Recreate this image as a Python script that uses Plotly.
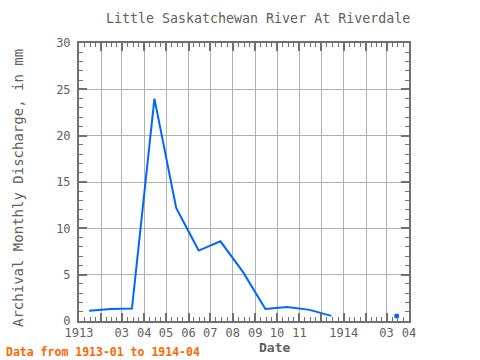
import pandas as pd
import plotly.graph_objects as go

# Data
dates = ["1913-01-15", "1913-02-14", "1913-03-15", "1913-04-15", "1913-05-15",
         "1913-06-15", "1913-07-15", "1913-08-15", "1913-09-15", "1913-10-15",
         "1913-11-15", "1913-12-15", "1914-01-15", "1914-02-14", "1914-03-15",
         "1914-04-15"]
discharge = [1.1, 1.3, 1.35, 24.0, 12.2, 7.6, 8.6, 5.3, 1.3, 1.5, 1.2, 0.55,
             None, None, 0.55, None]

tick_dates = pd.date_range("1913-01-01", "1914-04-01", freq="MS")
tick_labels = ["1913", "", "03", "04", "05", "06", "07", "08", "09", "10", "11", "",
               "1914", "", "03", "04"]

# minor ticks: quarters of each month
minor_vals = []
for a, b in zip(tick_dates[:-1], tick_dates[1:]):
    for k in (1, 2, 3):
        minor_vals.append(a + (b - a) * k / 4)

# isolated points (no neighbours) drawn as dots
iso_x, iso_y = [], []
for i, v in enumerate(discharge):
    if v is None:
        continue
    prev_ok = i > 0 and discharge[i - 1] is not None
    next_ok = i < len(discharge) - 1 and discharge[i + 1] is not None
    if not prev_ok and not next_ok:
        iso_x.append(dates[i])
        iso_y.append(v)

LINE = "#0066ff"
AX = "#707070"
GRID = "#b0b0b0"
TXT = "#606060"
FONT = "DejaVu Sans Mono"

fig = go.Figure()
fig.add_trace(go.Scatter(x=dates, y=discharge, mode="lines",
                         line=dict(color=LINE, width=2), connectgaps=False,
                         hoverinfo="skip"))
fig.add_trace(go.Scatter(x=iso_x, y=iso_y, mode="markers",
                         marker=dict(color=LINE, size=5), hoverinfo="skip"))

fig.update_layout(
    width=480, height=360,
    margin=dict(l=79, r=71, t=43, b=39),
    paper_bgcolor="white", plot_bgcolor="white",
    showlegend=False,
    font=dict(family=FONT, color=TXT, size=11),
    xaxis=dict(
        type="date",
        range=["1913-01-01", "1914-04-01"],
        tickmode="array", tickvals=tick_dates, ticktext=tick_labels,
        showgrid=True, gridcolor=GRID, gridwidth=1,
        showline=True, linecolor=AX, linewidth=2, mirror="ticks",
        ticks="inside", ticklen=8, tickcolor=AX, tickwidth=2,
        tickfont=dict(family=FONT, size=12, color=TXT),
        minor=dict(tickmode="array", tickvals=minor_vals, ticks="inside",
                   ticklen=4, tickcolor=AX, tickwidth=1, showgrid=False),
        zeroline=False,
    ),
    yaxis=dict(
        range=[0, 30],
        tickmode="array", tickvals=[0, 5, 10, 15, 20, 25, 30],
        showgrid=True, gridcolor=GRID, gridwidth=1,
        showline=True, linecolor=AX, linewidth=2, mirror="ticks",
        ticks="inside", ticklen=8, tickcolor=AX, tickwidth=2,
        tickfont=dict(family=FONT, size=12, color=TXT),
        ticklabelstandoff=4,
        minor=dict(dtick=1, ticks="inside", ticklen=4, tickcolor=AX,
                   tickwidth=1, showgrid=False),
        zeroline=False,
    ),
    annotations=[
        dict(text="Little Saskatchewan River At Riverdale", x=258, y=18,
             showarrow=False,
             font=dict(family=FONT, size=13.3, color=TXT)),
        dict(text="<b>Date</b>", x=274, y=347, showarrow=False,
             font=dict(family=FONT, size=13, color=TXT)),
        dict(text="Archival Monthly Discharge, in mm", x=18, y=188,
             textangle=-90, showarrow=False,
             font=dict(family=FONT, size=14, color=TXT)),
        dict(text="<b>Data from 1913-01 to 1914-04</b>", x=4, y=352,
             showarrow=False, xanchor="left",
             font=dict(family=FONT, size=11.5, color="#ff6600")),
    ],
)

# convert pixel positions of annotations to paper coordinates
pw = 480 - 79 - 71
ph = 360 - 43 - 39
for a in fig.layout.annotations:
    px, py = a.x, a.y
    a.xref = "paper"
    a.yref = "paper"
    a.x = (px - 79) / pw
    a.y = 1 - (py - 43) / ph
    if a.xanchor is None:
        a.xanchor = "center"
    a.yanchor = "middle"

fig.write_html("out.html", config={"displayModeBar": False},
               post_script="document.body.style.margin='0';document.body.style.overflow='hidden';")
